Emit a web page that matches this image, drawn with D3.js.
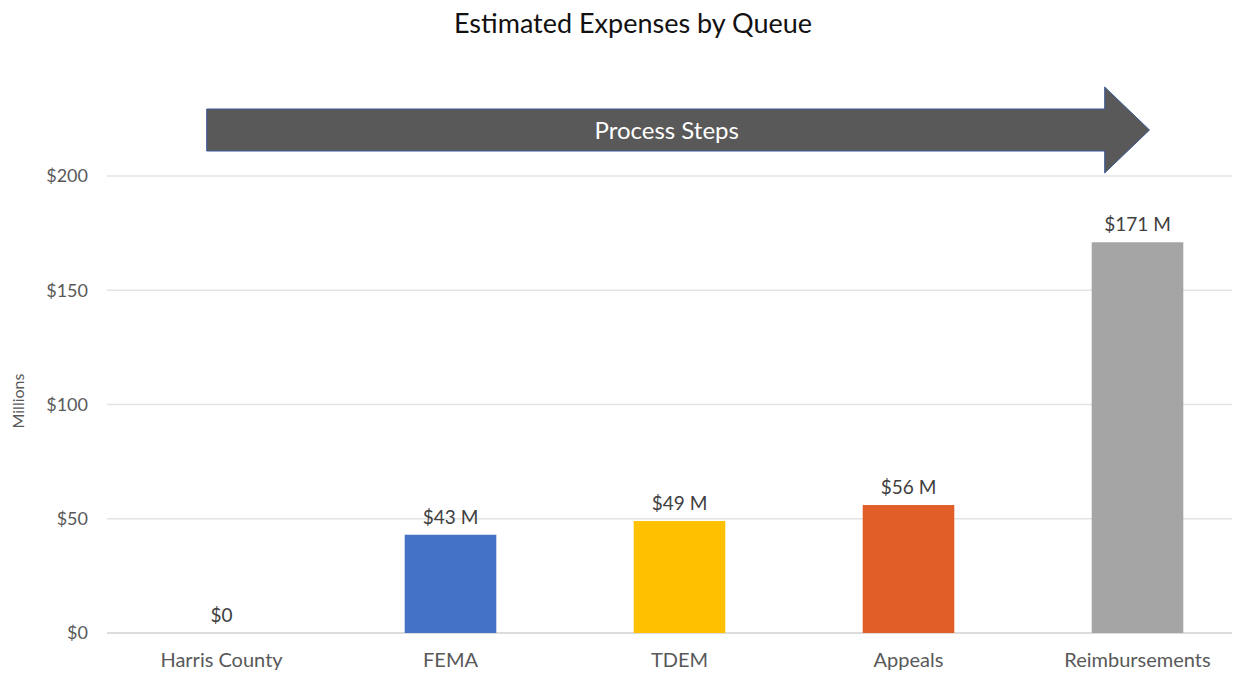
<!DOCTYPE html>
<html>
<head>
<meta charset="utf-8">
<script src="https://cdn.jsdelivr.net/npm/d3@7"></script>
<style>
  body { margin: 0; background: #fff; }
  text { font-family: Lato, "Open Sans", sans-serif; }
</style>
</head>
<body>
<div id="chart"></div>
<script>
// chart data
var categories = ["Harris County", "FEMA", "TDEM", "Appeals", "Reimbursements"];
var values = [0, 43, 49, 56, 171];
var valueLabels = ["$0", "$43 M", "$49 M", "$56 M", "$171 M"];
var barColors = ["#4472C4", "#4472C4", "#FFC000", "#E15E28", "#A5A5A5"];
var yTicks = [0, 50, 100, 150, 200];

var W = 1234, H = 675;
var margin = { top: 176, right: -18, bottom: 42, left: 107 },
    width = W - margin.left - margin.right,
    height = H - margin.top - margin.bottom;

var svg = d3.select("#chart").append("svg")
            .attr("width", W)
            .attr("height", H);

// chart title
svg.append("text")
  .attr("x", 633)
  .attr("y", 33)
  .style("text-anchor", "middle")
  .style("font-size", "27px")
  .style("fill", "#111")
  .text("Estimated Expenses by Queue");

var g = svg.append("g")
           .attr("transform", "translate(" + margin.left + "," + margin.top + ")");

var x = d3.scaleBand()
          .domain(categories)
          .range([0, width])
          .paddingInner(0.6)
          .paddingOuter(0.3);

var y = d3.scaleLinear()
          .domain([0, 200])
          .range([height, 0]);

// gridlines
g.selectAll(".grid")
  .data(yTicks)
  .enter().append("line")
  .attr("x1", 0)
  .attr("x2", W - margin.left - 2)
  .attr("y1", function(d) { return y(d); })
  .attr("y2", function(d) { return y(d); })
  .style("stroke", function(d) { return d === 0 ? "#d0d0d0" : "#e3e3e3"; })
  .style("stroke-width", 1.3);

// y axis labels
var yAxis = g.append("g")
  .call(d3.axisLeft(y).tickValues(yTicks).tickSize(0).tickPadding(19)
          .tickFormat(function(d) { return "$" + d; }));
yAxis.select(".domain").remove();
yAxis.selectAll("text")
  .style("font-size", "18px")
  .style("fill", "#595959")
  .style("font-family", "Lato, sans-serif");

// y axis title
svg.append("text")
  .attr("transform", "rotate(-90)")
  .attr("x", -401)
  .attr("y", 24)
  .style("text-anchor", "middle")
  .style("font-size", "16px")
  .style("fill", "#595959")
  .text("Millions");

// x axis labels
var xAxis = g.append("g")
  .attr("transform", "translate(0," + height + ")")
  .call(d3.axisBottom(x).tickSize(0).tickPadding(20));
xAxis.select(".domain").remove();
xAxis.selectAll("text")
  .style("font-size", "20px")
  .style("fill", "#595959")
  .style("font-family", "Lato, sans-serif");

// bars
g.selectAll(".bar")
  .data(values)
  .enter().append("rect")
  .attr("x", function(d, i) { return x(categories[i]); })
  .attr("y", function(d) { return y(d); })
  .attr("width", x.bandwidth())
  .attr("height", function(d) { return height - y(d); })
  .style("fill", function(d, i) { return barColors[i]; });

// data labels
g.selectAll(".lbl")
  .data(values)
  .enter().append("text")
  .attr("x", function(d, i) { return x(categories[i]) + x.bandwidth() / 2; })
  .attr("y", function(d) { return y(d) - 11; })
  .style("text-anchor", "middle")
  .style("font-size", "19px")
  .style("fill", "#404040")
  .text(function(d, i) { return valueLabels[i]; });

// process steps arrow
var ax0 = x("Harris County") + 31,
    ax1 = x("Reimbursements") + 13,
    tip = x("Reimbursements") + x.bandwidth() / 2 + 12,
    yc = y(200) - 46,
    bodyH = 21, headH = 43;
var arrowPts = [
  [ax0, yc - bodyH], [ax1, yc - bodyH], [ax1, yc - headH], [tip, yc],
  [ax1, yc + headH], [ax1, yc + bodyH], [ax0, yc + bodyH]
];
g.append("path")
  .attr("d", d3.line()(arrowPts) + "Z")
  .style("fill", "#595959")
  .style("stroke", "#3d5a99")
  .style("stroke-width", 1);

g.append("text")
  .attr("x", (ax0 + ax1) / 2 + 11)
  .attr("y", yc + 9)
  .style("text-anchor", "middle")
  .style("font-size", "24px")
  .style("fill", "#fff")
  .text("Process Steps");
</script>
</body>
</html>
